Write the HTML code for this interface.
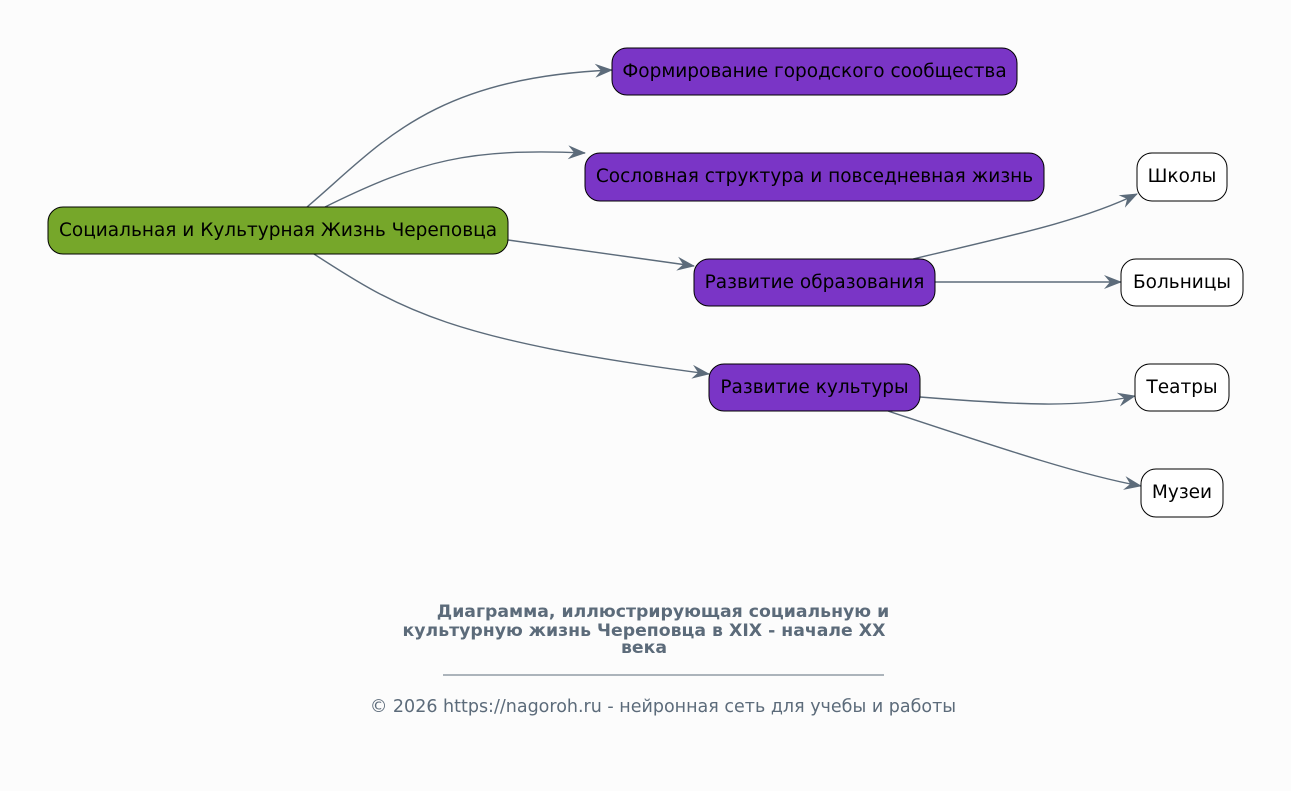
<!DOCTYPE html>
<html><head><meta charset="utf-8"><style>
html,body{margin:0;padding:0;background:#fcfcfc;}
svg{display:block;font-family:"DejaVu Sans","Liberation Sans",sans-serif;}
</style></head><body>
<svg width="1291" height="791" viewBox="0 0 1291 791" xmlns="http://www.w3.org/2000/svg">
<defs>
<marker id="a" viewBox="0 0 18 14" refX="17" refY="7" markerWidth="18" markerHeight="14" markerUnits="userSpaceOnUse" orient="auto">
<path d="M0,0 L18,7 L0,14 L6,7 z" fill="#5c6b7a"/>
</marker>
</defs>
<g fill="none" stroke="#5c6b7a" stroke-width="1.4" marker-end="url(#a)">
<path d="M307,207 C380,145 430,78 612,70"/>
<path d="M325,207 C420,160 470,148 585,153"/>
<path d="M508,240 L694,266"/>
<path d="M314,254 C400,310 450,340 709,374"/>
<path d="M913,259 C1000,238 1080,222 1137,194"/>
<path d="M935,282 L1121,282"/>
<path d="M920,397 C1020,405 1080,408 1135,396"/>
<path d="M888,411 C1000,448 1080,475 1141,486"/>
</g>
<g stroke="#000" stroke-width="1">
<rect x="48" y="207" width="460" height="47" rx="15" fill="#76a72a"/>
<rect x="612" y="48" width="405" height="47" rx="15" fill="#7a35c6"/>
<rect x="585" y="153" width="459" height="48" rx="15" fill="#7a35c6"/>
<rect x="694" y="259" width="241" height="47" rx="15" fill="#7a35c6"/>
<rect x="709" y="364" width="211" height="47" rx="15" fill="#7a35c6"/>
<rect x="1137" y="153" width="90" height="48" rx="15" fill="#fff"/>
<rect x="1121" y="259" width="122" height="47" rx="15" fill="#fff"/>
<rect x="1135" y="364" width="94" height="47" rx="15" fill="#fff"/>
<rect x="1141" y="469" width="82" height="48" rx="15" fill="#fff"/>
</g>
<g font-size="18.5" fill="#000" text-anchor="middle">
<text x="278" y="236">Социальная и Культурная Жизнь Череповца</text>
<text x="814.5" y="77">Формирование городского сообщества</text>
<text x="814.5" y="182">Сословная структура и повседневная жизнь</text>
<text x="814.5" y="288">Развитие образования</text>
<text x="814.5" y="393">Развитие культуры</text>
<text x="1182" y="182">Школы</text>
<text x="1182" y="288">Больницы</text>
<text x="1182" y="393">Театры</text>
<text x="1182" y="498">Музеи</text>
</g>
<g font-size="17.3" font-weight="bold" fill="#5c6b7a" text-anchor="middle">
<text x="663" y="617">Диаграмма, иллюстрирующая социальную и</text>
<text x="644" y="636">культурную жизнь Череповца в XIX - начале XX</text>
<text x="644" y="653">века</text>
</g>
<line x1="443" y1="675" x2="884" y2="675" stroke="#5c6b7a" stroke-width="1"/>
<text x="663" y="712" font-size="17.5" fill="#5c6b7a" text-anchor="middle">© 2026 https://nagoroh.ru - нейронная сеть для учебы и работы</text>
</svg>
</body></html>
